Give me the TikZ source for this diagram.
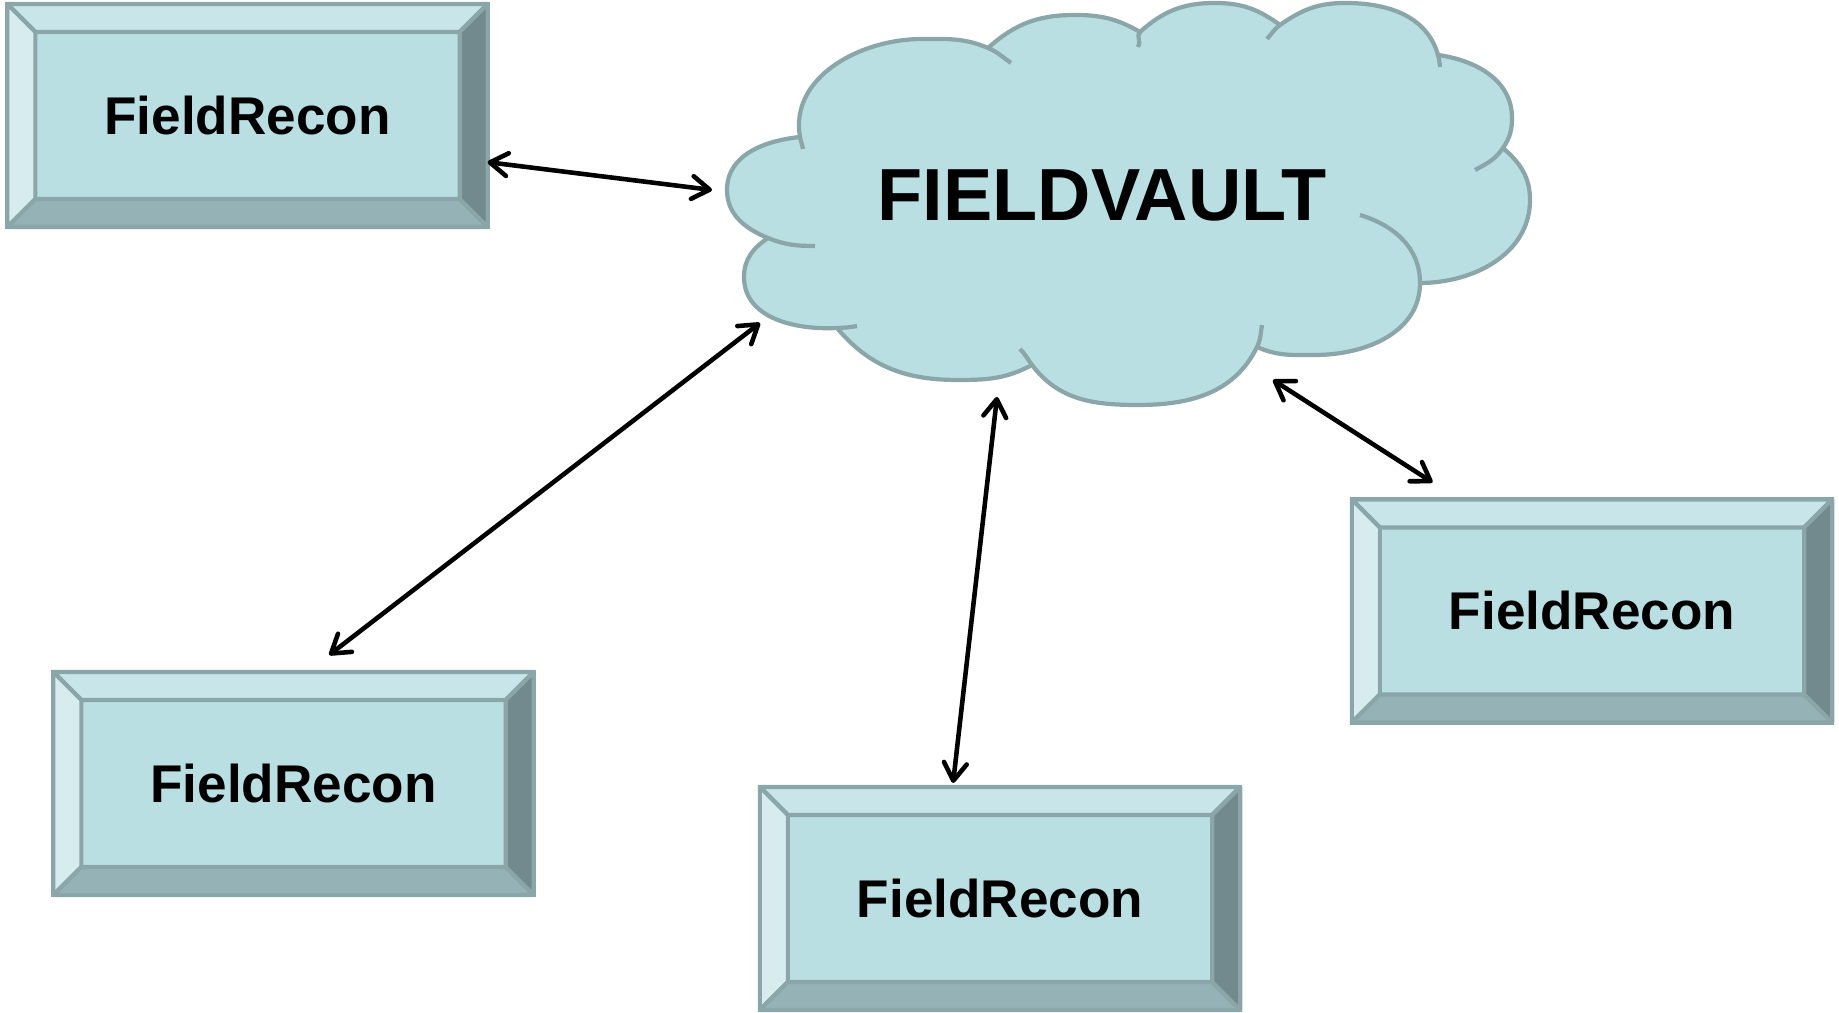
\documentclass[tikz,border=0pt]{standalone}
\usepackage{fontspec}
\setmainfont{Liberation Sans}
\usetikzlibrary{arrows.meta}
\definecolor{boxface}{HTML}{B9DFE3}
\definecolor{boxline}{HTML}{8AA6A9}
\definecolor{bevtop}{HTML}{C8E6E9}
\definecolor{bevleft}{HTML}{D7ECEF}
\definecolor{bevbottom}{HTML}{95B3B6}
\definecolor{bevright}{HTML}{728A8D}

\begin{document}
\begin{tikzpicture}[x=0.01cm, y=0.01cm,
	fieldbox/.style={draw=boxline, line width=1.2pt, fill=boxface, minimum width=4.8cm,
		minimum height=2.23cm, inner sep=0pt, outer sep=0pt,
		font=\fontsize{15.1}{18}\selectfont\bfseries},
	bevel/.style={draw=boxline, line width=1.2pt, line join=round},
	vaultcloud/.style={draw=boxline, fill=boxface, line width=1.2pt, line join=round},
	vaultline/.style={draw=boxline, line width=1.2pt},
	vaulttext/.style={font=\fontsize{21}{25}\selectfont\bfseries, inner sep=0pt},
	link/.style={line width=1.3pt, >={Straight Barb[length=5pt,width=6.5pt,round]}, <->}]
	\useasboundingbox (0,0) rectangle (1839,1013);

	\filldraw[vaultcloud] (768,775)
		to[out=158,in=-90] (727,823) to[out=90,in=186] (800,876)
		to[out=100,in=180] (922,974) to[out=0,in=157] (988,965)
		to[out=42,in=180] (1075,998) to[out=0,in=150] (1140,981)
		to[out=42,in=180] (1215,1010) to[out=0,in=144] (1280,988)
		to[out=35,in=180] (1345,1010) to[out=0,in=106] (1438,958)
		to[out=-8,in=90] (1512,895) to[out=-90,in=56] (1503,865)
		to[out=-41,in=90] (1530,813) to[out=-90,in=0] (1420,730)
		to[out=-90,in=0] (1315,658) to[out=180,in=-24] (1257,666)
		to[out=244,in=0] (1138,608) to[out=180,in=-53] (1032,648)
		to[out=208,in=0] (958,633) to[out=180,in=-50] (837,685)
		to[out=183,in=-90] (744,736) to[out=90,in=214] (768,775) -- cycle;
	\draw[vaultline] (800,876) to[out=-80,in=100] (803,864);
	\draw[vaultline] (988,965) to[out=-23,in=145] (1011,950);
	\draw[vaultline] (1140,981) to[out=222,in=49] (1138,966);
	\draw[vaultline] (1280,988) to[out=215,in=47] (1267,974);
	\draw[vaultline] (1438,958) to[out=-74,in=97] (1440,946);
	\draw[vaultline] (1503,865) to[out=236,in=28] (1475,843);
	\draw[vaultline] (1420,730) to[out=90,in=-17] (1360,798);
	\draw[vaultline] (1257,666) to[out=64,in=-100] (1262,688);
	\draw[vaultline] (1032,648) to[out=127,in=-45] (1020,664);
	\draw[vaultline] (837,685) to[out=3,in=192] (857,687);
	\draw[vaultline] (768,775) to[out=-22,in=180] (815,767);
	\node[vaulttext] (vault) at (1102,818) {FIELDVAULT};

	\node[fieldbox] (b1) at (247.5,897.5) {FieldRecon};
	\node[fieldbox] (b2) at (293.5,229.5) {FieldRecon};
	\node[fieldbox] (b3) at (1000,114.5) {FieldRecon};
	\node[fieldbox] (b4) at (1592,402) {FieldRecon};

	\foreach \b in {b1,b2,b3,b4} {
		\filldraw[bevel, fill=bevtop] (\b.north west) -- (\b.north east)
			-- ([shift={(-28,-28)}]\b.north east) -- ([shift={(28,-28)}]\b.north west) -- cycle;
		\filldraw[bevel, fill=bevleft] (\b.north west) -- ([shift={(28,-28)}]\b.north west)
			-- ([shift={(28,28)}]\b.south west) -- (\b.south west) -- cycle;
		\filldraw[bevel, fill=bevbottom] (\b.south west) -- ([shift={(28,28)}]\b.south west)
			-- ([shift={(-28,28)}]\b.south east) -- (\b.south east) -- cycle;
		\filldraw[bevel, fill=bevright] (\b.north east) -- (\b.south east)
			-- ([shift={(-28,28)}]\b.south east) -- ([shift={(-28,-28)}]\b.north east) -- cycle;
	}

	\coordinate (c1) at (712,823);
	\coordinate (c2) at (760,690);
	\coordinate (c3) at (997,616);
	\coordinate (c4) at (1273,633);
	\draw[link] (b1.-11) -- (c1);
	\draw[link, shorten <=0.278cm] (b2.83.6) -- (c2);
	\draw[link, shorten <=0.04cm] (b3.113.5) -- (c3);
	\draw[link, shorten <=0.315cm] (b4.140) -- (c4);
\end{tikzpicture}
\end{document}
